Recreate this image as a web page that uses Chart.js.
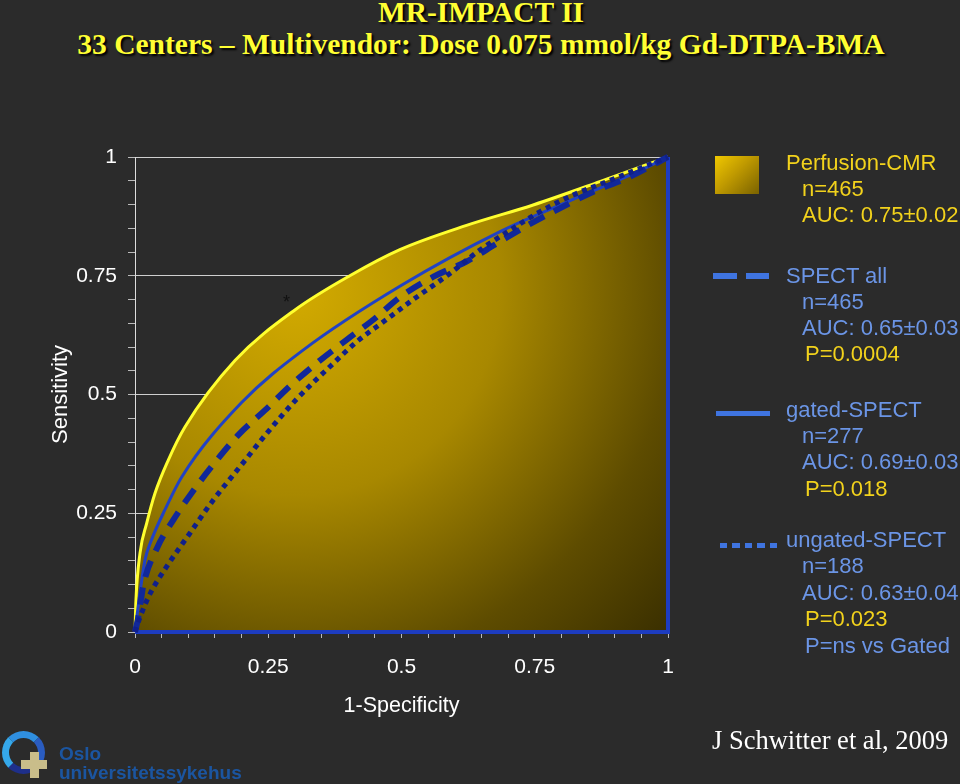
<!DOCTYPE html>
<html>
<head>
<meta charset="utf-8">
<script src="https://cdn.jsdelivr.net/npm/chart.js@4.4.1/dist/chart.umd.min.js"></script>
<style>
body { margin:0; background:#2b2b2b; }
#wrap { position:relative; width:960px; height:784px; overflow:hidden; background:#2b2b2b; font-family:"Liberation Sans", Arial, sans-serif; }
#chartBox { position:absolute; left:0; top:0; width:960px; height:784px; }
.title { position:absolute; left:0; width:962px; text-align:center; color:#ffff33; font:bold 29.5px "Liberation Serif", "Times New Roman", serif; text-shadow:2px 2px 2px #000; white-space:nowrap; }
.lg { position:absolute; font-size:22px; white-space:nowrap; line-height:24px; }
.y { color:#f2d21c; }
.b { color:#6b95e6; }
.cite { position:absolute; left:712px; top:725px; color:#fff; font:26.5px "Liberation Serif", "Times New Roman", serif; white-space:nowrap; }
.star { position:absolute; left:283px; top:292px; color:#111; font:18px "Liberation Sans", Arial, sans-serif; }
</style>
</head>
<body>
<div id="wrap">
  <div class="title" style="top:-4px">MR-IMPACT II</div>
  <div class="title" style="top:28px">33 Centers – Multivendor: Dose 0.075 mmol/kg Gd-DTPA-BMA</div>

  <div id="chartBox"><canvas id="roc"></canvas></div>
  <div class="star">*</div>

  <!-- legend -->
  <div style="position:absolute;left:715px;top:156px;width:44px;height:38px;background:linear-gradient(135deg,#f0c800,#c09a00 45%,#7a6200);"></div>
  <div class="lg y" style="left:786px;top:151px">Perfusion-CMR</div>
  <div class="lg y" style="left:802px;top:177px">n=465</div>
  <div class="lg y" style="left:802px;top:203px">AUC: 0.75±0.02</div>

  <div style="position:absolute;left:713px;top:273px;width:24px;height:6px;background:#3f74e0;"></div>
  <div style="position:absolute;left:746px;top:273px;width:23px;height:6px;background:#3f74e0;"></div>
  <div class="lg b" style="left:786px;top:264px">SPECT all</div>
  <div class="lg b" style="left:802px;top:290px">n=465</div>
  <div class="lg b" style="left:802px;top:316px">AUC: 0.65±0.03</div>
  <div class="lg y" style="left:805px;top:342px">P=0.0004</div>

  <div style="position:absolute;left:716px;top:411px;width:54px;height:5px;background:#3f74e0;"></div>
  <div class="lg b" style="left:786px;top:398px">gated-SPECT</div>
  <div class="lg b" style="left:802px;top:424px">n=277</div>
  <div class="lg b" style="left:802px;top:450px">AUC: 0.69±0.03</div>
  <div class="lg y" style="left:805px;top:477px">P=0.018</div>

  <div style="position:absolute;left:720px;top:543px;width:58px;height:5px;background:repeating-linear-gradient(90deg,#3f74e0 0 7px,transparent 7px 12.5px);"></div>
  <div class="lg b" style="left:786px;top:528px">ungated-SPECT</div>
  <div class="lg b" style="left:802px;top:554px">n=188</div>
  <div class="lg b" style="left:802px;top:581px">AUC: 0.63±0.04</div>
  <div class="lg y" style="left:805px;top:607px">P=0.023</div>
  <div class="lg b" style="left:805px;top:634px">P=ns vs Gated</div>

  <div class="cite">J Schwitter et al, 2009</div>

  <!-- logo -->
  <div style="position:absolute;left:2px;top:731px;width:29px;height:29px;border-radius:50%;border:7px solid;border-color:#2f8fe0 #2a5cc0 #1e2f8a #35a8ea;"></div>
  <div style="position:absolute;left:30px;top:752px;width:9px;height:26px;background:#c9bd8a;"></div>
  <div style="position:absolute;left:21px;top:760px;width:26px;height:9px;background:#c9bd8a;"></div>
  <div style="position:absolute;left:59px;top:744px;color:#1b55a0;font:bold 19px 'Liberation Sans',Arial,sans-serif;line-height:19px;">Oslo<br>universitetssykehus</div>
</div>

<script>
// ROC curves
const cmrX = [0, 0.0015, 0.0094, 0.022, 0.0375, 0.0625, 0.094, 0.188, 0.3, 0.403, 0.497, 0.622, 0.747, 0.872, 1];
const cmrY = [0, 0.06, 0.166, 0.229, 0.292, 0.362, 0.432, 0.572, 0.678, 0.75, 0.805, 0.856, 0.899, 0.948, 1];

const gatedX = [0, 0.009, 0.019, 0.031, 0.056, 0.088, 0.2, 0.316, 0.5, 0.685, 0.81, 0.935, 1];
const gatedY = [0, 0.08, 0.153, 0.194, 0.257, 0.327, 0.483, 0.594, 0.73, 0.843, 0.905, 0.965, 1];

const allX = [0, 0.006, 0.016, 0.041, 0.072, 0.109, 0.15, 0.194, 0.244, 0.291, 0.344, 0.397, 0.45, 0.497, 0.56, 0.622, 0.679, 0.738, 0.797, 0.86, 0.922, 1];
const allY = [0, 0.03, 0.1, 0.176, 0.236, 0.297, 0.357, 0.415, 0.467, 0.518, 0.569, 0.615, 0.66, 0.705, 0.748, 0.78, 0.818, 0.857, 0.892, 0.927, 0.955, 1];

const ungX = [0, 0.009, 0.028, 0.059, 0.103, 0.147, 0.197, 0.247, 0.303, 0.366, 0.416, 0.466, 0.516, 0.591, 0.647, 0.704, 0.76, 0.822, 0.885, 0.947, 1];
const ungY = [0, 0.03, 0.08, 0.137, 0.208, 0.278, 0.348, 0.418, 0.49, 0.559, 0.611, 0.653, 0.695, 0.755, 0.804, 0.846, 0.885, 0.92, 0.948, 0.976, 1];

const frameX = [0, 1, 1];
const frameY = [0, 0, 1];

const majorTicks = [0, 0.25, 0.5, 0.75, 1];
const tickLabels = ['0', '0.25', '0.5', '0.75', '1'];

function pts(xs, ys) {
  return xs.map((x, i) => ({x: x, y: ys[i]}));
}
function majorLabel(v) {
  let i = majorTicks.findIndex(m => Math.abs(m - v) < 1e-6);
  return i >= 0 ? tickLabels[i] : '';
}
function isMajor(v) {
  return majorTicks.some(m => Math.abs(m - v) < 1e-6);
}

Chart.defaults.font.family = '"Liberation Sans", Arial, sans-serif';

function goldFill(ctx) {
  let ca = ctx.chart.chartArea;
  if (!ca) return '#a08000';
  let cx = ca.left + ca.width * 0.3, cy = ca.top + ca.height * 0.28;
  let g = ctx.chart.ctx.createRadialGradient(cx, cy, 5, cx, cy, ca.width * 0.95);
  g.addColorStop(0, '#d2aa00');
  g.addColorStop(0.4, '#a88800');
  g.addColorStop(0.75, '#5e4c00');
  g.addColorStop(1, '#3a2f00');
  return g;
}

new Chart(document.getElementById('roc'), {
  type: 'scatter',
  data: {
    datasets: [
      { label: 'ungated-SPECT', data: pts(ungX, ungY), showLine: true, borderColor: '#10208a', borderWidth: 5, borderDash: [5, 5], cubicInterpolationMode: 'monotone', pointRadius: 0, fill: false },
      { label: 'SPECT all', data: pts(allX, allY), showLine: true, borderColor: '#11289a', borderWidth: 6, borderDash: [17, 11], cubicInterpolationMode: 'monotone', pointRadius: 0, fill: false },
      { label: 'gated-SPECT', data: pts(gatedX, gatedY), showLine: true, borderColor: '#2142c4', borderWidth: 3, cubicInterpolationMode: 'monotone', pointRadius: 0, fill: false },
      { label: 'frame', data: pts(frameX, frameY), showLine: true, borderColor: '#1d3cc0', borderWidth: 4, tension: 0, pointRadius: 0, fill: false },
      { label: 'Perfusion-CMR', data: pts(cmrX, cmrY), showLine: true, borderColor: '#ffff2e', borderWidth: 3, cubicInterpolationMode: 'monotone', pointRadius: 0, fill: 'origin', backgroundColor: goldFill }
    ]
  },
  options: {
    responsive: true,
    maintainAspectRatio: false,
    animation: false,
    clip: false,
    layout: { padding: { left: 48, top: 157, right: 292, bottom: 65 } },
    plugins: { legend: { display: false }, tooltip: { enabled: false } },
    scales: {
      x: {
        type: 'linear', min: 0, max: 1,
        afterFit: s => { s.height = 87; },
        border: { display: false },
        grid: { drawOnChartArea: false, tickLength: 6, color: '#bbbbbb', lineWidth: 1 },
        ticks: { stepSize: 0.05, autoSkip: false, maxRotation: 0, padding: 17, color: '#ffffff', font: { size: 21 }, callback: v => majorLabel(v) },
        title: { display: true, text: '1-Specificity', color: '#ffffff', font: { size: 21.5 }, padding: 0 }
      },
      y: {
        type: 'linear', min: 0, max: 1,
        afterFit: s => { s.width = 87; },
        border: { display: true, color: '#dddddd', width: 1 },
        grid: {
          tickLength: 7,
          color: c => (c.tick && isMajor(c.tick.value)) ? '#cfcfcf' : 'rgba(0,0,0,0)',
          tickColor: '#bbbbbb',
          lineWidth: 1
        },
        ticks: { stepSize: 0.05, autoSkip: false, padding: 11, color: '#ffffff', font: { size: 21 }, callback: v => majorLabel(v) },
        title: { display: true, text: 'Sensitivity', color: '#ffffff', font: { size: 22 }, padding: 0 }
      }
    }
  }
});
</script>
</body>
</html>
